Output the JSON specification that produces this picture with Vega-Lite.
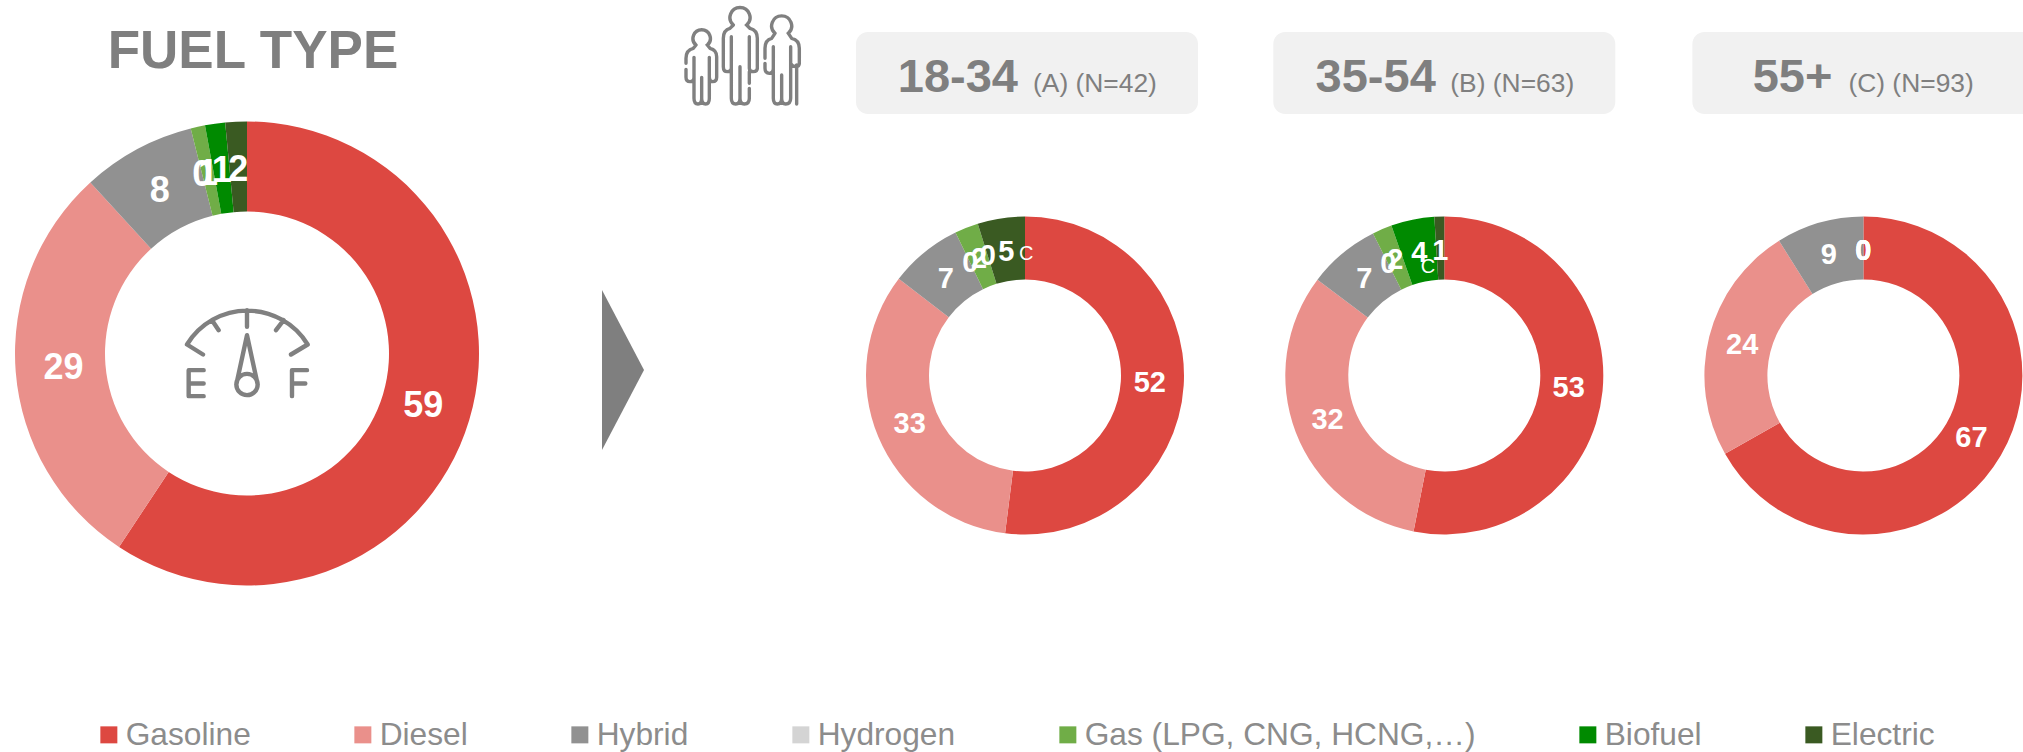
{
"$schema":"https://vega.github.io/schema/vega-lite/v6.json",
"width":2023,"height":752,"padding":0,"autosize":{"type":"none"},
"background":"white",
"view":{"stroke":null},
"datasets":{
"shares":[
{"panel":"Total","column":0,"row":3,"fuel":"Gasoline","order":1,"value":59.3},
{"panel":"Total","column":0,"row":3,"fuel":"Diesel","order":2,"value":28.9},
{"panel":"Total","column":0,"row":3,"fuel":"Hybrid","order":3,"value":7.9},
{"panel":"Total","column":0,"row":3,"fuel":"Hydrogen","order":4,"value":0},
{"panel":"Total","column":0,"row":3,"fuel":"Gas (LPG, CNG, HCNG,…)","order":5,"value":1.0},
{"panel":"Total","column":0,"row":3,"fuel":"Biofuel","order":6,"value":1.4},
{"panel":"Total","column":0,"row":3,"fuel":"Electric","order":7,"value":1.5},
{"panel":"18-34","column":3,"row":5,"fuel":"Gasoline","order":1,"value":52.0},
{"panel":"18-34","column":3,"row":5,"fuel":"Diesel","order":2,"value":33.4},
{"panel":"18-34","column":3,"row":5,"fuel":"Hybrid","order":3,"value":7.4},
{"panel":"18-34","column":3,"row":5,"fuel":"Hydrogen","order":4,"value":0},
{"panel":"18-34","column":3,"row":5,"fuel":"Gas (LPG, CNG, HCNG,…)","order":5,"value":2.4},
{"panel":"18-34","column":3,"row":5,"fuel":"Biofuel","order":6,"value":0},
{"panel":"18-34","column":3,"row":5,"fuel":"Electric","order":7,"value":4.8,"sig":"C"},
{"panel":"35-54","column":4,"row":5,"fuel":"Gasoline","order":1,"value":53.1},
{"panel":"35-54","column":4,"row":5,"fuel":"Diesel","order":2,"value":32.2},
{"panel":"35-54","column":4,"row":5,"fuel":"Hybrid","order":3,"value":7.3},
{"panel":"35-54","column":4,"row":5,"fuel":"Hydrogen","order":4,"value":0},
{"panel":"35-54","column":4,"row":5,"fuel":"Gas (LPG, CNG, HCNG,…)","order":5,"value":2.0},
{"panel":"35-54","column":4,"row":5,"fuel":"Biofuel","order":6,"value":4.4,"sig":"C"},
{"panel":"35-54","column":4,"row":5,"fuel":"Electric","order":7,"value":1.0},
{"panel":"55+","column":5,"row":5,"fuel":"Gasoline","order":1,"value":66.8},
{"panel":"55+","column":5,"row":5,"fuel":"Diesel","order":2,"value":24.3},
{"panel":"55+","column":5,"row":5,"fuel":"Hybrid","order":3,"value":8.9},
{"panel":"55+","column":5,"row":5,"fuel":"Hydrogen","order":4,"value":0},
{"panel":"55+","column":5,"row":5,"fuel":"Gas (LPG, CNG, HCNG,…)","order":5,"value":0},
{"panel":"55+","column":5,"row":5,"fuel":"Biofuel","order":6,"value":0},
{"panel":"55+","column":5,"row":5,"fuel":"Electric","order":7,"value":0}
],
"headers":[
{"panel":"18-34","tag":"(A) (N=42)","column":3,"row":2},
{"panel":"35-54","tag":"(B) (N=63)","column":4,"row":2},
{"panel":"55+","tag":"(C) (N=93)","column":5,"row":2}
]
},
"encoding":{
"x":{"field":"column","type":"quantitative","axis":null,"scale":{"type":"linear","domain":[0,1,2,3,4,5],"range":[247,623,670,1025,1444.3,1863.4],"zero":false,"nice":false}},
"y":{"field":"row","type":"quantitative","axis":null,"scale":{"type":"linear","domain":[0,1,2,3,4,5],"range":[0,50,73,353.5,370,375.5],"zero":false,"nice":false}}
},
"layer":[
{"data":{"values":[{"column":0,"row":1,"label":"FUEL TYPE"}]},
 "mark":{"type":"text","font":"Liberation Sans","fontWeight":"bold","fontSize":53,"fill":"#7f7f7f","align":"center","baseline":"alphabetic","dx":6,"dy":18},
 "encoding":{"text":{"field":"label"}}},
{"data":{"values":[{"column":1,"row":4,"item":"arrow"}]},
 "mark":{"type":"point","filled":true,"opacity":1,"fill":"#7f7f7f","strokeWidth":0,"size":4,"shape":"M-21,-80 L21,0 L-21,80 Z"},
 "encoding":{}},
{"data":{"values":[{"column":2,"row":0,"item":"people"}]},
 "mark":{"type":"point","filled":false,"opacity":1,"stroke":"#808080","strokeWidth":3.4,"strokeCap":"round","size":0.4444,
 "shape":"M78 135 A26 26 0 1 1 112 135 L120 145 Q140 150 140 170 V232 Q140 245 128 245 Q118 245 118 232 V172 M78 135 L70 145 Q48 150 48 175 V190 M48 208 V232 Q48 245 60 245 Q72 245 72 232 V172 M72 232 V295 Q72 312 84 312 Q95 312 95 295 V232 M95 295 Q95 312 107 312 Q118 312 118 295 V232 M190 75 A30 30 0 1 1 230 75 L240 85 Q262 90 262 115 V205 Q262 215 250 215 Q238 215 238 205 V110 M190 75 L180 85 Q160 90 160 115 V200 Q160 215 172 215 Q184 215 184 205 V110 M184 205 V295 Q184 312 197 312 Q210 312 210 295 V200 M210 295 Q210 312 223 312 Q238 312 238 295 V265 M238 250 V215 M315 100 A30 30 0 1 1 355 100 L365 115 Q388 120 388 145 V190 Q388 200 378 200 Q365 200 362 190 V140 M315 100 L305 115 Q285 120 285 145 V175 M285 190 V205 Q285 220 298 220 Q310 220 310 205 V140 M310 205 V295 Q310 312 322 312 Q335 312 335 295 V225 M335 295 Q335 312 347 312 Q362 312 362 295 V190 M380 195 V312"},
 "encoding":{}},
{"data":{"name":"headers"},
 "mark":{"type":"point","filled":true,"opacity":1,"fill":"#f1f1f1","strokeWidth":0,"size":4,"xOffset":{"expr":"datum.panel==='18-34'?2:0"},
 "shape":"M-159,-41 H159 A12,12 0 0 1 171,-29 V29 A12,12 0 0 1 159,41 H-159 A12,12 0 0 1 -171,29 V-29 A12,12 0 0 1 -159,-41 Z"},
 "encoding":{}},
{"data":{"name":"headers"},
 "mark":{"type":"text","font":"Liberation Sans","fontWeight":"bold","fontSize":47,"fill":"#7f7f7f","align":"right","baseline":"alphabetic","dy":19,"dx":{"expr":"datum.panel==='55+'?-31:(datum.panel==='18-34'?-7:-8.5)"}},
 "encoding":{"text":{"field":"panel"}}},
{"data":{"name":"headers"},
 "mark":{"type":"text","font":"Liberation Sans","fontSize":26.4,"fill":"#7f7f7f","align":"left","baseline":"alphabetic","dy":19,"dx":{"expr":"datum.panel==='55+'?-15:(datum.panel==='18-34'?8:6)"}},
 "encoding":{"text":{"field":"tag"}}},
{"data":{"name":"shares"},
 "transform":[{"stack":"value","groupby":["panel"],"sort":[{"field":"order"}],"offset":"normalize","as":["v0","v1"]},{"filter":"datum.panel==='Total'"}],
 "mark":{"type":"arc","radius":232,"radius2":142},
 "encoding":{
  "theta":{"field":"v0","type":"quantitative","scale":{"domain":[0,1]}},
  "theta2":{"field":"v1"},
  "color":{"field":"fuel","type":"nominal","scale":{"domain":["Gasoline","Diesel","Hybrid","Hydrogen","Gas (LPG, CNG, HCNG,…)","Biofuel","Electric"],"range":["#dd4841","#ea908b","#919191","#d4d4d4","#70ad47","#008a00","#3a5a22"]},
   "legend":{"title":null,"orient":"none","legendX":93,"legendY":719,"direction":"horizontal","columns":7,"gridAlign":"none","columnPadding":96,"symbolType":"square","symbolSize":289,"symbolStrokeWidth":0,"labelFontSize":31.7,"labelFont":"Liberation Sans","labelColor":"#8c8c8c","labelOffset":1,"labelLimit":600}}
 }},
{"data":{"name":"shares"},
 "transform":[{"stack":"value","groupby":["panel"],"sort":[{"field":"order"}],"offset":"normalize","as":["v0","v1"]},{"filter":"datum.panel!=='Total'"}],
 "mark":{"type":"arc","radius":159,"radius2":96},
 "encoding":{
  "theta":{"field":"v0","type":"quantitative","scale":{"domain":[0,1]}},
  "theta2":{"field":"v1"},
  "color":{"field":"fuel","type":"nominal"}
 }},
{"data":{"name":"shares"},
 "transform":[{"filter":"datum.panel==='Total'"}],
 "mark":{"type":"text","radius":184,"font":"Liberation Sans","fontWeight":"bold","fontSize":36,"fill":"white","align":"center","baseline":"middle"},
 "encoding":{
  "theta":{"field":"value","type":"quantitative","stack":"normalize","scale":{"domain":[0,1]}},
  "order":{"field":"order","type":"quantitative"},
  "text":{"field":"value","type":"quantitative","format":".0f"}
 }},
{"data":{"name":"shares"},
 "transform":[{"filter":"datum.panel==='18-34'"}],
 "mark":{"type":"text","radius":125,"font":"Liberation Sans","fontWeight":"bold","fontSize":29,"fill":"white","align":"center","baseline":"middle"},
 "encoding":{
  "theta":{"field":"value","type":"quantitative","stack":"normalize","scale":{"domain":[0,1]}},
  "order":{"field":"order","type":"quantitative"},
  "text":{"field":"value","type":"quantitative","format":".0f"}
 }},
{"data":{"name":"shares"},
 "transform":[{"filter":"datum.panel==='35-54'"}],
 "mark":{"type":"text","radius":125,"font":"Liberation Sans","fontWeight":"bold","fontSize":29,"fill":"white","align":"center","baseline":"middle"},
 "encoding":{
  "theta":{"field":"value","type":"quantitative","stack":"normalize","scale":{"domain":[0,1]}},
  "order":{"field":"order","type":"quantitative"},
  "text":{"field":"value","type":"quantitative","format":".0f"}
 }},
{"data":{"name":"shares"},
 "transform":[{"filter":"datum.panel==='55+'"}],
 "mark":{"type":"text","radius":125,"font":"Liberation Sans","fontWeight":"bold","fontSize":29,"fill":"white","align":"center","baseline":"middle"},
 "encoding":{
  "theta":{"field":"value","type":"quantitative","stack":"normalize","scale":{"domain":[0,1]}},
  "order":{"field":"order","type":"quantitative"},
  "text":{"field":"value","type":"quantitative","format":".0f"}
 }},
{"data":{"name":"shares"},
 "transform":[{"stack":"value","groupby":["panel"],"sort":[{"field":"order"}],"offset":"normalize","as":["v0","v1"]},{"filter":"datum.sig"}],
 "mark":{"type":"text","radius":127,"font":"Liberation Sans","fontSize":20,"fill":"white","align":"center","baseline":"middle","dx":{"expr":"datum.panel==='18-34'?39:26"},"dy":{"expr":"datum.panel==='18-34'?0:11"}},
 "encoding":{
  "theta":{"field":"v0","type":"quantitative","scale":{"domain":[0,1]}},
  "text":{"field":"sig"}
 }},
{"data":{"values":[{"column":0,"row":3,"item":"gauge"}]},
 "mark":{"type":"point","filled":false,"opacity":1,"stroke":"#808080","strokeWidth":4.4,"strokeCap":"round","strokeJoin":"round","size":0.4444,
 "shape":"M-132,3 L-180,-27 A212,212 0 0 1 182,-27 L132,3 M0,-130 V-80 M-105,-100 L-85,-70 M110,-100 L87,-70 M-32,93 L0,-55 L32,93 M32,93 A32,32 0 1 1 -32,93 A32,32 0 1 1 32,93 M-130,50 H-175 V128 H-130 M-175,90 H-130 M180,50 H135 V128 M135,90 H175"},
 "encoding":{}}
]
}
